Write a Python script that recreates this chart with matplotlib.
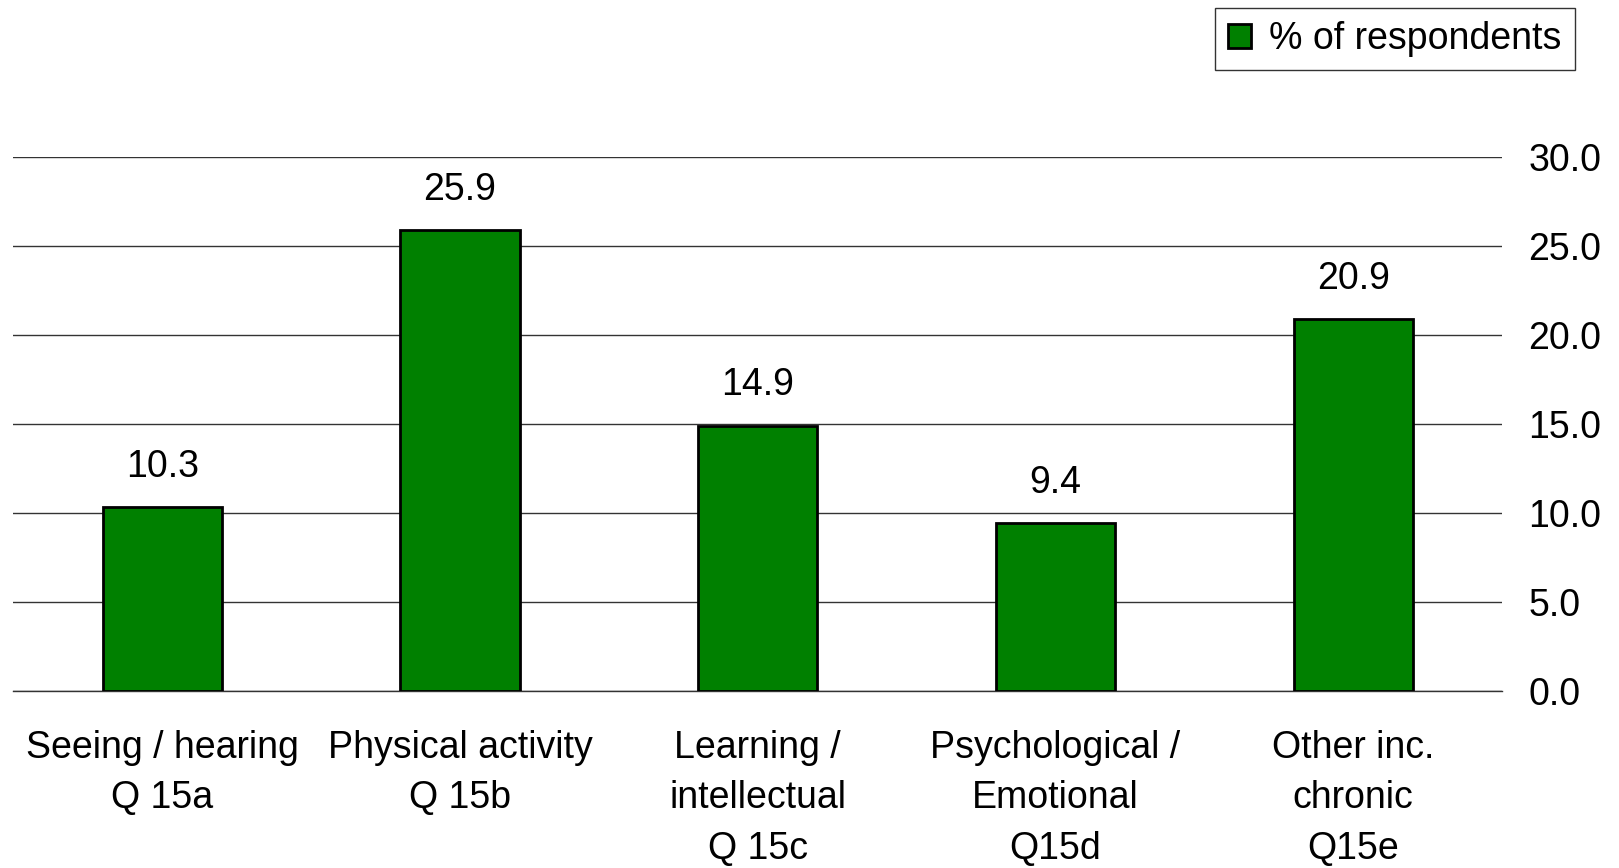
import numpy as np
import matplotlib.pyplot as plt
from matplotlib.ticker import FormatStrFormatter

plt.rcParams['font.family'] = ['Liberation Sans', 'DejaVu Sans']

categories = ['Seeing / hearing\nQ 15a', 'Physical activity\nQ 15b', 'Learning /\nintellectual\nQ 15c',
              'Psychological /\nEmotional\nQ15d', 'Other inc.\nchronic\nQ15e']
values = [10.3, 25.9, 14.9, 9.4, 20.9]
series_name = '% of respondents'
yticks = [0, 5, 10, 15, 20, 25, 30]

fig = plt.figure(figsize=(16.19, 8.68), dpi=100)
ax = fig.add_axes([0.0083, 0.2043, 0.9194, 0.6147])

x = np.arange(len(values))
bars = ax.bar(x, values, width=0.4, color='#008000', edgecolor='black', linewidth=2.0,
              label=series_name, zorder=3)

for xi, v in zip(x, values):
    ax.annotate(f'{v:.1f}', (xi, v), xytext=(0, 16), textcoords='offset points',
                ha='center', va='bottom', fontsize=27)

ax.set_xlim(-0.5, len(values) - 0.5)
ax.set_ylim(0, 30)
ax.set_yticks(yticks)
ax.yaxis.set_major_formatter(FormatStrFormatter('%.1f'))
ax.yaxis.tick_right()
ax.tick_params(axis='y', length=0, pad=19, labelsize=27)
ax.set_xticks(x)
ax.set_xticklabels(categories, fontsize=27, linespacing=1.53)
ax.tick_params(axis='x', length=0, pad=28)
ax.grid(axis='y', color='#333333', linewidth=1.0, zorder=0)
for s in ax.spines.values():
    s.set_visible(False)
ax.spines['bottom'].set_visible(True)
ax.spines['bottom'].set_color('#333333')
ax.spines['bottom'].set_linewidth(1.0)

leg = ax.legend(loc='upper right', bbox_to_anchor=(1.0616, 1.315), fontsize=27,
                frameon=True, fancybox=False, edgecolor='black', handlelength=0.6,
                handleheight=0.6, handletextpad=0.5, borderpad=0.35)
leg.get_frame().set_linewidth(1.0)

fig.savefig('out.png', dpi=100)
